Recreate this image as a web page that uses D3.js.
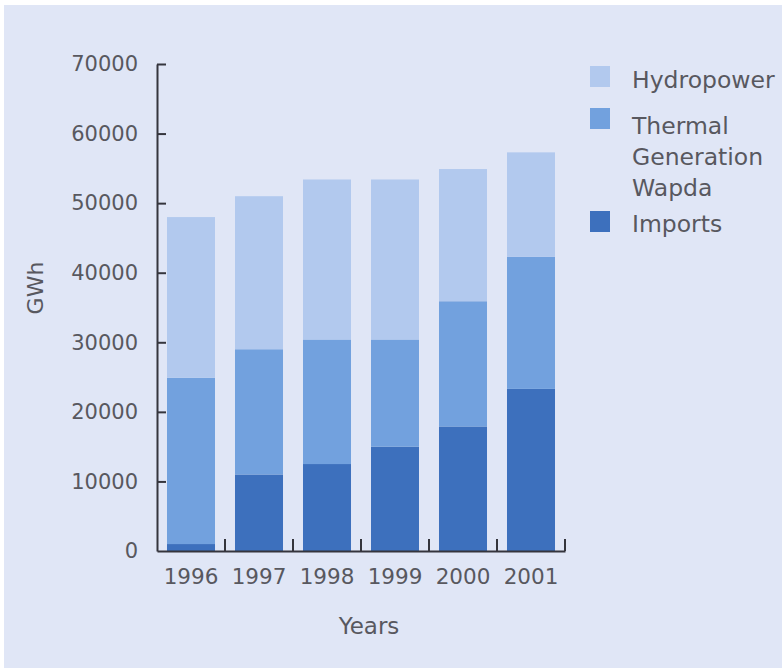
<!DOCTYPE html>
<html>
<head>
<meta charset="utf-8">
<script src="https://cdn.jsdelivr.net/npm/d3@7"></script>
<style>
  html, body { margin: 0; padding: 0; background: #ffffff; }
  svg { display: block; }
  text { font-family: "DejaVu Sans", sans-serif; }
</style>
</head>
<body>
<svg id="chart" width="782" height="668"></svg>
<script>
// ---- data ----
const years = ["1996", "1997", "1998", "1999", "2000", "2001"];
const imports = [1000, 11000, 12500, 15000, 17900, 23300];
const thermal = [23900, 18000, 17900, 15400, 18000, 19000];
const hydropower = [23100, 22000, 23000, 23000, 19000, 15000];
const seriesNames = ["Imports", "Thermal Generation Wapda", "Hydropower"];
const yTicks = [0, 10000, 20000, 30000, 40000, 50000, 60000, 70000];

// legend entries (top to bottom) with wrapped label lines
const legendLabels = [["Hydropower"], ["Thermal", "Generation", "Wapda"], ["Imports"]];

const colors = {
  "Imports": "#3d70bd",
  "Thermal Generation Wapda": "#72a1de",
  "Hydropower": "#b2c9ee"
};

const svg = d3.select("#chart");
const W = 782, H = 668;

// background panel
svg.append("rect").attr("x", 4).attr("y", 5).attr("width", W - 4).attr("height", H - 5)
  .attr("fill", "#e0e6f6");

const table = years.map((y, i) => ({
  year: y,
  "Imports": imports[i],
  "Thermal Generation Wapda": thermal[i],
  "Hydropower": hydropower[i]
}));

const x = d3.scaleBand().domain(years).range([157, 565])
  .paddingInner(0.294).paddingOuter(0.147);
const y = d3.scaleLinear().domain([0, 70000]).range([551, 64]);

const stacked = d3.stack().keys(seriesNames)(table);

svg.append("g").selectAll("g").data(stacked).join("g")
  .attr("fill", d => colors[d.key])
  .selectAll("rect").data(d => d).join("rect")
  .attr("x", d => x(d.data.year))
  .attr("width", x.bandwidth())
  .attr("y", d => y(d[1]))
  .attr("height", d => y(d[0]) - y(d[1]));

const axisColor = "#35353d";
const textColor = "#58585f";

// y axis
const yAxis = svg.append("g").attr("transform", "translate(157,0)")
  .call(d3.axisLeft(y).tickValues(yTicks).tickFormat(d3.format("d"))
    .tickSize(-9).tickSizeOuter(0).tickPadding(19));
yAxis.select(".domain").attr("stroke", axisColor).attr("stroke-width", 2);
yAxis.selectAll(".tick line").attr("stroke", axisColor).attr("stroke-width", 2)
  .filter(d => d === 0).remove();
yAxis.selectAll(".tick text").attr("fill", textColor).attr("font-size", 21)
  .attr("font-family", "DejaVu Sans");

// x axis
const xAxis = svg.append("g").attr("transform", "translate(0,551)")
  .call(d3.axisBottom(x).tickSize(0).tickSizeOuter(0).tickPadding(18));
xAxis.select(".domain").attr("stroke", axisColor).attr("stroke-width", 2);
xAxis.selectAll(".tick text").attr("fill", textColor).attr("font-size", 21.5)
  .attr("font-family", "DejaVu Sans");
// boundary ticks pointing up
const gap = x.step() - x.bandwidth();
xAxis.selectAll(".bound").data(years).join("line")
  .attr("class", "bound")
  .attr("x1", d => x(d) + x.bandwidth() + gap / 2)
  .attr("x2", d => x(d) + x.bandwidth() + gap / 2)
  .attr("y1", 0).attr("y2", -12)
  .attr("stroke", axisColor).attr("stroke-width", 2);

// axis titles
svg.append("text").attr("x", 369).attr("y", 634).attr("text-anchor", "middle")
  .attr("font-size", 23).attr("fill", textColor).text("Years");
svg.append("text").attr("transform", "translate(43,288) rotate(-90)")
  .attr("text-anchor", "middle").attr("font-size", 22).attr("fill", textColor).text("GWh");

// legend
const legendKeys = ["Hydropower", "Thermal Generation Wapda", "Imports"];
const swatchY = [66, 108, 211];
const baseY = [88, 134, 232];
const leg = svg.append("g");
legendKeys.forEach((k, i) => {
  leg.append("rect").attr("x", 590).attr("y", swatchY[i]).attr("width", 20).attr("height", 21)
    .attr("fill", colors[k]);
  const t = leg.append("text").attr("x", 632).attr("y", baseY[i])
    .attr("font-size", 23.5).attr("fill", textColor);
  legendLabels[i].forEach((line, j) => {
    t.append("tspan").attr("x", 632).attr("dy", j === 0 ? 0 : 31).text(line);
  });
});
</script>
</body>
</html>
